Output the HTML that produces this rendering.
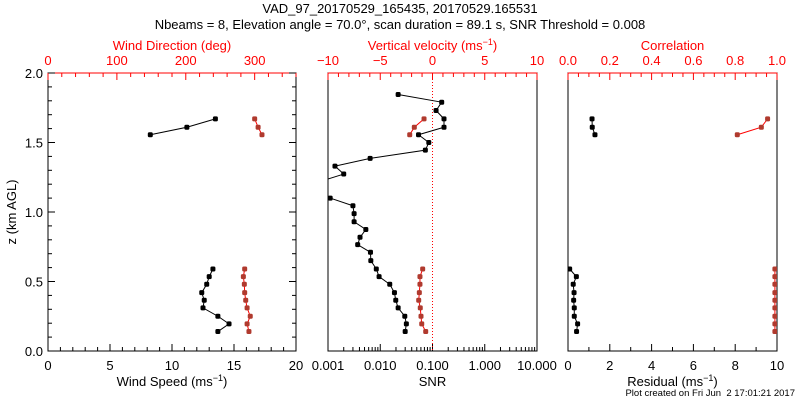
<!DOCTYPE html>
<html><head><meta charset="utf-8"><style>
html,body{margin:0;padding:0;background:#fff;}
svg{display:block;font-family:"Liberation Sans",sans-serif;}
</style></head><body>
<svg id="chart" width="800" height="400" viewBox="0 0 800 400" xmlns="http://www.w3.org/2000/svg">
<text x="400" y="13" text-anchor="middle" font-size="13">VAD_97_20170529_165435, 20170529.165531</text>
<text x="400" y="29" text-anchor="middle" font-size="13">Nbeams = 8, Elevation angle = 70.0°, scan duration = 89.1 s, SNR Threshold = 0.008</text>
<text x="795" y="396" text-anchor="end" font-size="9.5" style="white-space:pre">Plot created on Fri Jun  2 17:01:21 2017</text>
<text transform="translate(16 212) rotate(-90)" text-anchor="middle" font-size="13">z (km AGL)</text>
<defs>
<clipPath id="c1"><rect x="48" y="73" width="248" height="278"/></clipPath>
<clipPath id="c2"><rect x="328" y="73" width="209" height="278"/></clipPath>
<clipPath id="c3"><rect x="568" y="73" width="209" height="278"/></clipPath>
</defs>
</svg>
<script>
// ---- data ----
const zLow = [0.14,0.195,0.25,0.31,0.365,0.42,0.48,0.535,0.59];
const zUp = [1.556,1.61,1.67];
const speedLow = [13.7,14.6,13.7,12.5,12.6,12.4,12.8,13.0,13.3];
const speedUp = [8.25,11.2,13.5];
const dirLow = [291.7,289,293.6,289,287,285.5,285,283.6,285.5];
const dirUp = [310.6,305,300];
const snrZ = [0.14,0.195,0.25,0.31,0.365,0.42,0.48,0.535,0.59,0.65,0.71,0.765,0.818,0.874,0.93,0.988,1.045,1.1,1.19,1.273,1.33,1.386,1.445,1.5,1.556,1.61,1.67,1.73,1.79,1.845];
const snrVals = [0.030,0.0316,0.0295,0.022,0.0198,0.0187,0.0152,0.0095,0.0084,0.0066,0.0065,0.0037,0.0041,0.0053,0.00316,0.00316,0.003,0.0011,0.0004,0.002,0.00136,0.0064,0.073,0.085,0.054,0.166,0.166,0.117,0.15,0.022];
const wLow = [-0.65,-1.03,-1.1,-1.17,-1.32,-1.26,-1.2,-1.2,-0.94];
const wUp = [-2.18,-1.74,-0.81];
const residLow = [0.41,0.46,0.30,0.30,0.27,0.29,0.25,0.40,0.08];
const residUp = [1.29,1.16,1.15];
const corrLow = [0.99,0.99,0.99,0.99,0.99,0.99,0.99,0.99,0.99];
const corrUp = [0.81,0.925,0.955];
const speedTicks = ['0','5','10','15','20'];
const dirTicks = ['0','100','200','300'];
const snrTicks = ['0.001','0.010','0.100','1.000','10.000'];
const wTicks = ['\u221210','\u22125','0','5','10'];
const residTicks = ['0','2','4','6','8','10'];
const corrTicks = ['0.0','0.2','0.4','0.6','0.8','1.0'];
const zTicks = ['0.0','0.5','1.0','1.5','2.0'];

const svg = document.getElementById('chart');
const NS = 'http://www.w3.org/2000/svg';
const Y0 = 351, Y1 = 73;
function yS(z){ return Y0 - (z/2)*(Y0-Y1); }
function lin(a,b,x0,x1){ return v => x0 + (v-a)/(b-a)*(x1-x0); }
function mk(tag, attrs, parent){ const e=document.createElementNS(NS,tag); for(const k in attrs) e.setAttribute(k,attrs[k]); (parent||svg).appendChild(e); return e; }
function txt(x,y,s,opt){ const t=mk('text',Object.assign({x:x,y:y,'font-size':13,'text-anchor':'middle'},opt||{})); t.textContent=s; return t; }

const P = [{x0:48,x1:296,clip:'c1'},{x0:328,x1:537,clip:'c2'},{x0:568,x1:777,clip:'c3'}];
P.forEach((p,i)=>{
  const r = mk('rect',{x:p.x0,y:Y1,width:p.x1-p.x0,height:Y0-Y1,fill:'none',stroke:'#000','stroke-width':1});
  
  
  const tl = mk('line',{x1:p.x0,y1:Y1,x2:p.x1,y2:Y1,stroke:'#f00','stroke-width':1});
  
  
});
for(let k=0;k<=20;k++){
  const y=yS(k*0.1), L=(k%5==0)?7:4;
  mk('line',{x1:48,y1:y,x2:48+L,y2:y,stroke:'#000'});
  mk('line',{x1:296,y1:y,x2:296-L,y2:y,stroke:'#000'});
}
zTicks.forEach((s,i)=>{ const t=txt(43,yS(i*0.5)+5,s,{'text-anchor':'end'});
    });

function bottomLinear(p,max,minorStep,majorStep,labels,title,name){
  const f=lin(0,max,p.x0,p.x1);
  for(let v=0;v<=max+1e-9;v+=minorStep){ const maj=Math.abs(v/majorStep-Math.round(v/majorStep))<1e-6;
    mk('line',{x1:f(v),y1:Y0,x2:f(v),y2:Y0-(maj?7:4),stroke:'#000'}); }
  labels.forEach((s,i)=>{ const t=txt(f(i*majorStep),370,s);   });
  const t=txt((p.x0+p.x1)/2,386,''); t.innerHTML=title;  
}
function topLinear(p,a,b,minorStep,majorStep,labels,title,name){
  const f=lin(a,b,p.x0,p.x1);
  for(let v=a;v<=b+1e-9;v+=minorStep){ const maj=Math.abs((v-a)/majorStep-Math.round((v-a)/majorStep))<1e-6;
    mk('line',{x1:f(v),y1:Y1,x2:f(v),y2:Y1+(maj?7:4),stroke:'#f00'}); }
  labels.forEach((s,i)=>{ const t=txt(f(a+i*majorStep),65,s,{fill:'#f00'});   });
  const t=txt((p.x0+p.x1)/2,50,'',{fill:'#f00'}); t.innerHTML=title;  
}
const sup = '(ms<tspan dy="-5" font-size="9">\u22121</tspan><tspan dy="5">)</tspan>';
bottomLinear(P[0],20,1,5,speedTicks,'Wind Speed '+sup,'wind-speed');
topLinear(P[0],0,360,20,100,dirTicks,'Wind Direction (deg)','wind-direction');
bottomLinear(P[2],10,1,2,residTicks,'Residual '+sup,'residual');
topLinear(P[2],0,1,0.05,0.2,corrTicks,'Correlation','correlation');
topLinear(P[1],-10,10,1,5,wTicks,'Vertical velocity '+sup,'vertical-velocity');
const fLog = v => P[1].x0 + (Math.log10(v)+3)/4*(P[1].x1-P[1].x0);
for(let d=-3;d<1;d++) for(let m=1;m<=10;m++){ const v=m*Math.pow(10,d); if(m==10&&d<0) continue;
  mk('line',{x1:fLog(v),y1:Y0,x2:fLog(v),y2:Y0-(m==1||m==10?7:4),stroke:'#000'}); }
snrTicks.forEach((s,i)=>{ const t=txt(fLog(Math.pow(10,i-3)),370,s);   });
{ const t=txt((P[1].x0+P[1].x1)/2,386,'SNR');   }
const fW = lin(-10,10,P[1].x0,P[1].x1);
const zl = mk('line',{x1:fW(0),y1:Y1,x2:fW(0),y2:Y0,stroke:'#f00','stroke-dasharray':'1 2'});



function series(xs,zs,fx,clip,line,dot,name){
  const g=mk('g',{'clip-path':'url(#'+clip+')'});
  
  
  const pts=xs.map((v,i)=>[fx(v),yS(zs[i])]);
  mk('polyline',{points:pts.map(p=>p.join(',')).join(' '),fill:'none',stroke:line,'stroke-width':1},g);
  pts.forEach(p=>{ const c=mk('rect',{x:p[0]-2.5,y:p[1]-2.5,width:5,height:5,rx:1.5,fill:dot},g);
      });
}
const fSp=lin(0,20,P[0].x0,P[0].x1), fDir=lin(0,360,P[0].x0,P[0].x1);
const fRes=lin(0,10,P[2].x0,P[2].x1), fCor=lin(0,1,P[2].x0,P[2].x1);
series(speedLow,zLow,fSp,'c1','#000','#000','wind-speed-low');
series(speedUp,zUp,fSp,'c1','#000','#000','wind-speed-upper');
series(dirLow,zLow,fDir,'c1','#f00','#b03a2e','wind-direction-low');
series(dirUp,zUp,fDir,'c1','#f00','#b03a2e','wind-direction-upper');
series(snrVals,snrZ,fLog,'c2','#000','#000','snr-profile');
series(wLow,zLow,fW,'c2','#f00','#b03a2e','vertical-velocity-low');
series(wUp,zUp,fW,'c2','#f00','#b03a2e','vertical-velocity-upper');
series(residLow,zLow,fRes,'c3','#000','#000','residual-low');
series(residUp,zUp,fRes,'c3','#000','#000','residual-upper');
series(corrLow,zLow,fCor,'c3','#f00','#b03a2e','correlation-low');
series(corrUp,zUp,fCor,'c3','#f00','#b03a2e','correlation-upper');
</script>
</body></html>
